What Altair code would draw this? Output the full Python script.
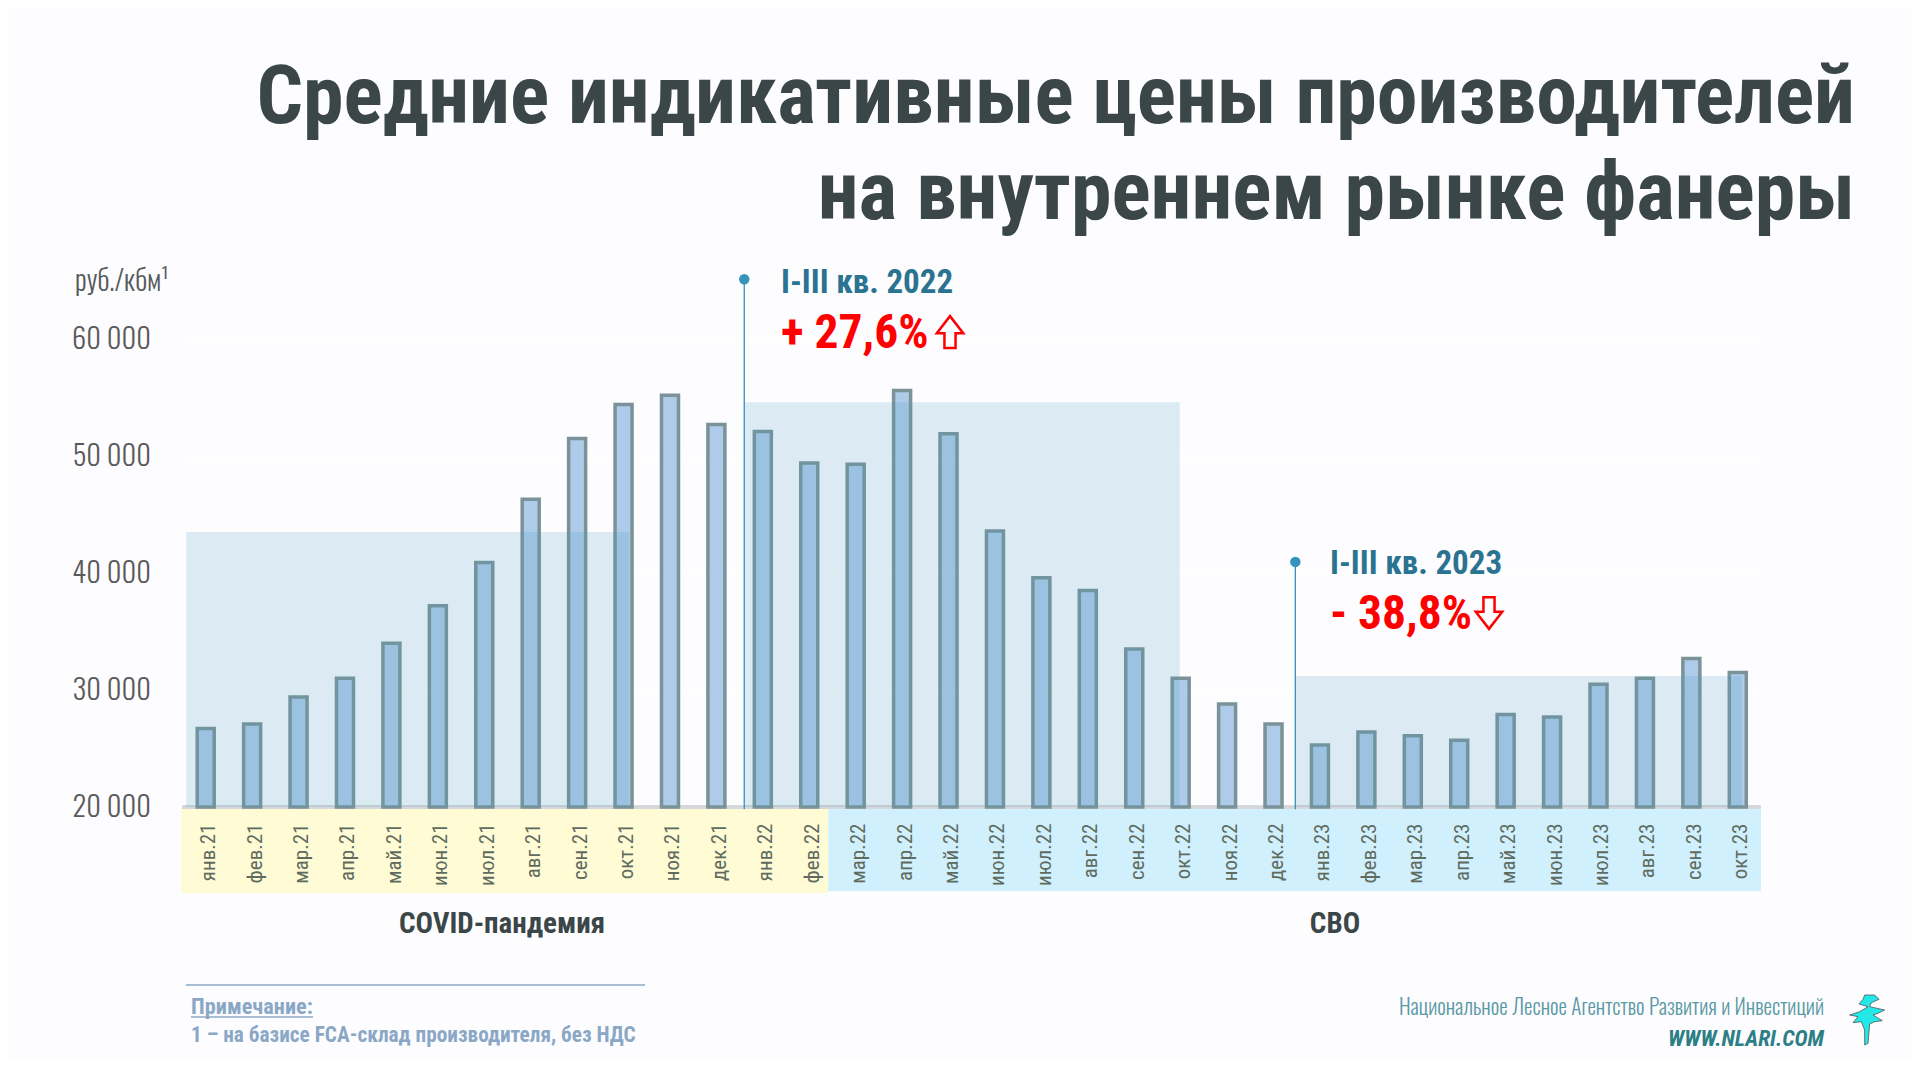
import altair as alt
import pandas as pd

months = ["янв.21","фев.21","мар.21","апр.21","май.21","июн.21","июл.21","авг.21","сен.21","окт.21","ноя.21","дек.21",
          "янв.22","фев.22","мар.22","апр.22","май.22","июн.22","июл.22","авг.22","сен.22","окт.22","ноя.22","дек.22",
          "янв.23","фев.23","мар.23","апр.23","май.23","июн.23","июл.23","авг.23","сен.23","окт.23"]
prices = [26700,27100,29400,31000,34000,37200,40900,46300,51500,54400,55200,52700,
          52100,49400,49300,55600,51900,43600,39600,38500,33500,31000,28800,27100,
          25300,26400,26100,25700,27900,27700,30500,31000,32700,31500]

BOLD = "Roboto Condensed"
THIN = "Oswald"
PL, PT, W, H = 182.5, 339.0, 1578.5, 468.0  # plot box on the page

df = pd.DataFrame({"i": range(len(months)), "month": months, "price": prices, "base": 20000})
one = pd.DataFrame({"a": [0]})

x_scale = alt.Scale(domain=[-0.5, 33.5], range=[0, W], nice=False, zero=False, padding=0)
y_scale = alt.Scale(domain=[20000, 60000], range=[H, 0], nice=False, zero=False)
lab_js = "[" + ",".join(f"'{m}'" for m in months) + "][datum.value]"

X = alt.X("i:Q", scale=x_scale, title=None,
          axis=alt.Axis(values=list(range(34)), labelExpr=lab_js, labelAngle=270, labelFont=BOLD, labelFontSize=21,
                        labelColor="#5f6b5f", labelPadding=16, labelOffset=3, ticks=False, domain=False, grid=False,
                        labelOverlap=False, zindex=1))
Y = alt.Y("price:Q", scale=y_scale, title=None,
          axis=alt.Axis(values=[20000,30000,40000,50000,60000], labelExpr="replace(format(datum.value, ','), ',', ' ')",
                        labelFont=THIN, labelFontWeight=300, labelFontSize=28.5, labelColor="#5a5a5a", labelPadding=32,
                        ticks=False, domain=False, grid=True, gridColor="#ffffff", gridWidth=2))

def band(x0, x1, y0, y1, color, opacity=1.0):
    d = pd.DataFrame({"x0": [x0], "x1": [x1], "y0": [y0], "y1": [y1]})
    return alt.Chart(d).mark_rect(color=color, opacity=opacity).encode(
        x=alt.X("x0:Q", scale=x_scale), x2="x1:Q", y=alt.Y("y0:Q", scale=y_scale), y2="y1:Q")

def txt(px, py, text, size, color, font=BOLD, weight="bold", align="left", italic=False):
    kw = {"fontStyle": "italic"} if italic else {}
    return alt.Chart(one).mark_text(text=text, font=font, fontSize=size, color=color,
                                    fontWeight=weight, align=align, baseline="middle", **kw).encode(
        x=alt.value(px - PL), y=alt.value(py - PT))

def hrule(x0, x1, py, color, width):
    return alt.Chart(one).mark_rule(color=color, strokeWidth=width).encode(
        x=alt.value(x0 - PL), x2=alt.value(x1 - PL), y=alt.value(py - PT))

def marker(ix, top):
    d = pd.DataFrame({"x": [ix], "top": [top], "bot": [19800]})
    r = alt.Chart(d).mark_rule(color="#3593bc", strokeWidth=1.3).encode(
        x=alt.X("x:Q", scale=x_scale), y=alt.Y("top:Q", scale=y_scale), y2="bot:Q")
    p = alt.Chart(d).mark_circle(color="#3593bc", opacity=1, size=110).encode(
        x=alt.X("x:Q", scale=x_scale), y=alt.Y("top:Q", scale=y_scale))
    return r + p

UP = "M0,-1.2L1,0.1L0.42,0.1L0.42,1.2L-0.42,1.2L-0.42,0.1L-1,0.1Z"
DOWN = "M0,1.2L1,-0.1L0.42,-0.1L0.42,-1.2L-0.42,-1.2L-0.42,-0.1L-1,-0.1Z"
def arrow(px, py, shape):
    return alt.Chart(one).mark_point(shape=shape, size=700, stroke="#ff0000", strokeWidth=2.5, filled=False, opacity=1).encode(
        x=alt.value(px - PL), y=alt.value(py - PT))

TREE = [(75,45),(105,45),(118,58),(95,68),(90,80),(135,90),(115,100),(100,105),(128,122),(105,125),(90,132),
        (85,190),(75,195),(75,150),(65,125),(40,128),(55,110),(30,105),(60,95),(85,80),(58,72),(70,58)]
tree_path = "M" + "L".join(f"{(a-85)/70:.3f},{(b-120)/70:.3f}" for a, b in TREE) + "Z"
tree = alt.Chart(one).mark_point(shape=tree_path, size=2178, fill="#22e8e8", stroke="#555555", strokeWidth=0.8,
                                 filled=True, opacity=1).encode(x=alt.value(1868 - PL), y=alt.value(1020 - PT))

bars = alt.Chart(df).mark_bar(size=17, fill="#aecbe9", stroke="#7a9298", strokeWidth=3.5, opacity=1).encode(
    x=X, y=Y, y2="base:Q")
base_line = alt.Chart(df).mark_rule(color="#d5d7da", strokeWidth=3).encode(
    x=alt.datum(-0.5, scale=x_scale), x2=alt.datum(33.5), y=alt.datum(20000, scale=y_scale))

layers = [
    band(-0.53, 13.41, 19830, 12650, "#fefbd5"),
    band(13.41, 33.5, 19830, 12800, "#cff0fc"),
    base_line,
    bars,
    band(-0.42, 9.12, 20000, 43500, "#4f9dbf", 0.19),
    band(11.6, 20.98, 20000, 54600, "#4f9dbf", 0.19),
    band(23.47, 33.09, 20000, 31200, "#4f9dbf", 0.19),
    marker(11.6, 65100),
    marker(23.47, 40950),
    txt(75, 283, "руб./кбм¹", 28, "#555a5a", font=THIN, weight=300),
    txt(781, 283, "I-III кв. 2022", 33, "#2a7391"),
    txt(781, 334, "+ 27,6%", 47.5, "#ff0000"),
    arrow(950, 332, UP),
    txt(1330, 564, "I-III кв. 2023", 33, "#2a7391"),
    txt(1330, 615, "- 38,8%", 47.5, "#ff0000"),
    arrow(1489, 613, DOWN),
    txt(502, 924, "COVID-пандемия", 29, "#3a4648", align="center"),
    txt(1335, 924, "СВО", 29, "#3a4648", align="center"),
    hrule(186, 645, 985, "#8aa8c4", 1.5),
    txt(191, 1007, "Примечание:", 22.3, "#8aa8c6"),
    hrule(191, 313, 1017, "#8aa8c6", 1.5),
    txt(191, 1036, "1 – на базисе FCA-склад производителя, без НДС", 21.3, "#8aa8c6"),
    txt(1824, 1009, "Национальное Лесное Агентство Развития и Инвестиций", 21.3, "#5b9aa5", font=THIN, weight=300, align="right"),
    txt(1824, 1039, "WWW.NLARI.COM", 22.3, "#2c7f86", italic=True, align="right"),
    tree,
]

chart = alt.layer(*layers).resolve_scale(x="shared", y="shared").properties(
    width=W, height=H,
    padding={"left": PL - 8, "top": PT - 8, "right": 151, "bottom": 253},
    autosize=alt.AutoSizeParams(type="none"),
    background="#fdfcff",
    title=alt.TitleParams(text=["Средние индикативные цены производителей", "на внутреннем рынке фанеры"],
                          anchor="end", align="right", frame="group", dx=94, offset=31, font=BOLD, fontSize=81.8, fontWeight="bold",
                          color="#3a4648", lineHeight=96),
).configure_view(stroke=None)

chart.save("out.html", embed_options={"renderer": "svg", "actions": False})
